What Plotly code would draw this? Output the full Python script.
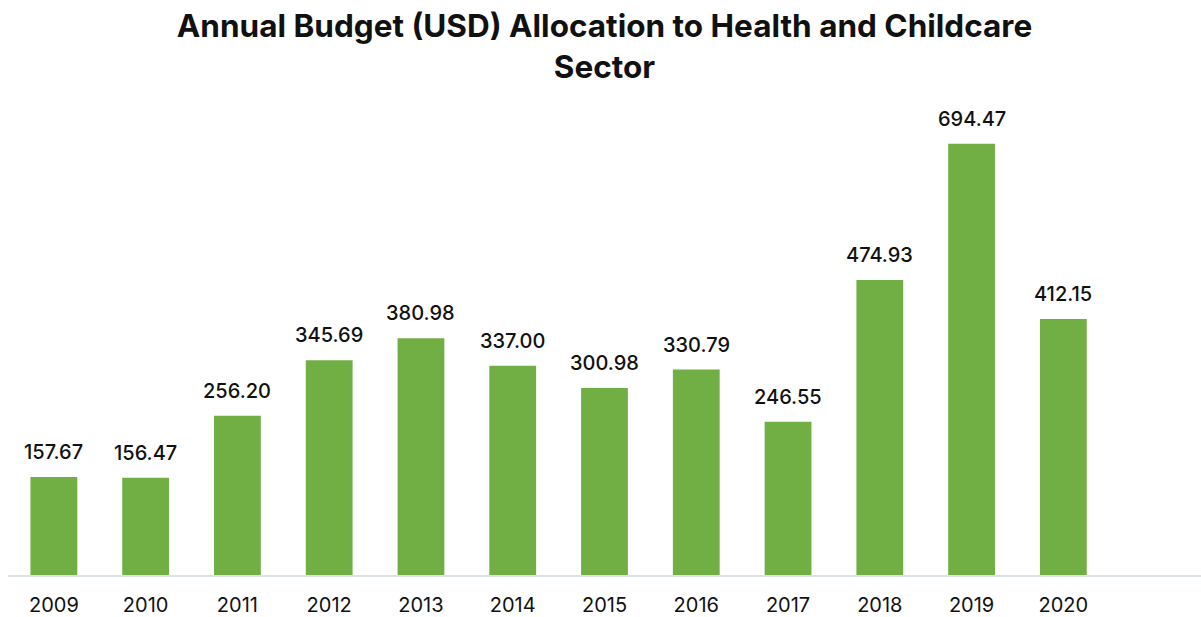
import plotly.graph_objects as go

years = ["2009", "2010", "2011", "2012", "2013", "2014", "2015", "2016", "2017", "2018", "2019", "2020"]
budget = [157.67, 156.47, 256.20, 345.69, 380.98, 337.00, 300.98, 330.79, 246.55, 474.93, 694.47, 412.15]

font_name = "Inter"

fig = go.Figure()
fig.add_trace(go.Bar(
    x=list(range(len(years))), y=budget,
    width=0.51,
    marker=dict(color="#71AF44", line=dict(width=0)),
    hovertext=years, hoverinfo="text+y",
))

# value labels above the bars
for i, v in enumerate(budget):
    fig.add_annotation(x=i, y=v, text=f"{v:.2f}", showarrow=False,
                       yanchor="bottom", yshift=11,
                       font=dict(family=font_name, size=20, color="#111111", weight=500))

fig.update_layout(
    width=1201, height=617,
    paper_bgcolor="white", plot_bgcolor="white",
    margin=dict(l=8, r=0, t=102, b=38),
    showlegend=False,
    title=dict(
        text="<b>Annual Budget (USD) Allocation to Health and Childcare<br>Sector</b>",
        x=0.5, xanchor="center", xref="paper",
        y=0.94, yanchor="top", yref="container",
        font=dict(family=font_name, size=31.5, color="#111111"),
    ),
    xaxis=dict(
        range=[-0.5, 12.5],
        tickvals=list(range(len(years))), ticktext=years,
        showgrid=False, showline=True, linecolor="#DDE2E8", linewidth=2,
        zeroline=False, ticks="", ticklabelstandoff=11,
        tickfont=dict(family=font_name, size=20, color="#111111"),
        fixedrange=True,
    ),
    yaxis=dict(
        range=[0, 761.5], visible=False, showgrid=False, zeroline=False,
        fixedrange=True,
    ),
)

fig.write_html("out.html", config={"displayModeBar": False},
               post_script="document.body.style.margin='0px';")
